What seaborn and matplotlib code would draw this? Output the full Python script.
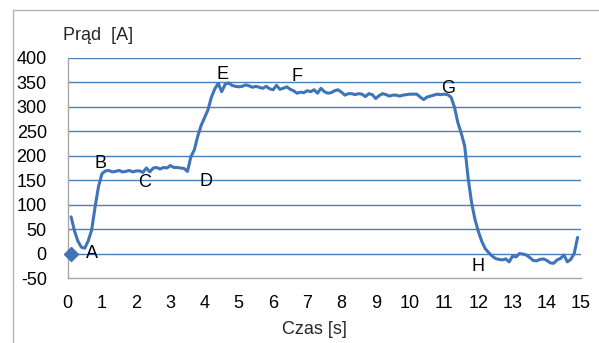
import matplotlib
matplotlib.use("Agg")
import matplotlib.pyplot as plt
from matplotlib.lines import Line2D
import seaborn as sns
import pandas as pd

# Measured current over time
czas = [0.1, 0.2, 0.3, 0.4, 0.5, 0.6, 0.7, 0.8, 0.9, 1.0,
        1.1, 1.2, 1.3, 1.4, 1.5, 1.6, 1.7, 1.8, 1.9, 2.0,
        2.1, 2.2, 2.3, 2.4, 2.5, 2.6, 2.7, 2.8, 2.9, 3.0,
        3.1, 3.2, 3.3, 3.4, 3.5, 3.6, 3.7, 3.8, 3.9, 4.0,
        4.1, 4.2, 4.3, 4.4, 4.5, 4.6, 4.7, 4.8, 4.9, 5.0,
        5.1, 5.2, 5.3, 5.4, 5.5, 5.6, 5.7, 5.8, 5.9, 6.0,
        6.1, 6.2, 6.3, 6.4, 6.5, 6.6, 6.7, 6.8, 6.9, 7.0,
        7.1, 7.2, 7.3, 7.4, 7.5, 7.6, 7.7, 7.8, 7.9, 8.0,
        8.1, 8.2, 8.3, 8.4, 8.5, 8.6, 8.7, 8.8, 8.9, 9.0,
        9.1, 9.2, 9.3, 9.4, 9.5, 9.6, 9.7, 9.8, 9.9, 10.0,
        10.1, 10.2, 10.3, 10.4, 10.5, 10.6, 10.7, 10.8, 10.9, 11.0,
        11.1, 11.2, 11.3, 11.4, 11.5, 11.6, 11.7, 11.8, 11.9, 12.0,
        12.1, 12.2, 12.3, 12.4, 12.5, 12.6, 12.7, 12.8, 12.9, 13.0,
        13.1, 13.2, 13.3, 13.4, 13.5, 13.6, 13.7, 13.8, 13.9, 14.0,
        14.1, 14.2, 14.3, 14.4, 14.5, 14.6, 14.7, 14.8, 14.9]
prad = [75, 46, 25, 13, 11, 26, 48, 95, 137, 163,
        169, 170, 167, 168, 170, 167, 168, 170, 167, 169,
        169, 166, 175, 167, 175, 176, 173, 176, 175, 180,
        176, 176, 175, 174, 168, 198, 212, 240, 262, 278,
        294, 320, 337, 348, 331, 346, 349, 344, 342, 341,
        342, 345, 343, 340, 342, 340, 338, 342, 337, 335,
        344, 336, 338, 341, 336, 333, 328, 330, 329, 333,
        331, 335, 328, 338, 331, 328, 329, 333, 335, 330,
        324, 327, 327, 325, 327, 326, 321, 327, 325, 317,
        323, 327, 325, 322, 324, 324, 322, 324, 325, 326,
        326, 326, 320, 315, 320, 322, 324, 326, 325, 326,
        325, 320, 300, 268, 246, 220, 155, 105, 70, 45,
        25, 10, 2, -5, -10, -12, -13, -11, -17, -5,
        -7, 0, -1, -3, -8, -14, -15, -12, -11, -14,
        -19, -20, -13, -10, -3, -17, -12, 0, 33]

# Single marked point at the start
punkt_czas = [0.1]
punkt_prad = [0]

# Labelled points of the waveform
etykiety = ["A", "B", "C", "D", "E", "F", "G", "H"]
etykiety_x = [0.72, 0.96, 2.26, 4.03, 4.52, 6.69, 11.12, 12.0]
etykiety_y = [0, 185, 146, 147, 367, 363, 338, -27]

y_ticks = [-50, 0, 50, 100, 150, 200, 250, 300, 350, 400]
x_ticks = list(range(0, 16))

sns.set_style("white")
plt.rcParams["font.family"] = ["Liberation Sans", "DejaVu Sans"]

LINE = "#3F74B8"
GRID = "#4A7EBB"
AXIS = "#A6A6A6"
FS = 13

fig = plt.figure(figsize=(5.99, 3.43), dpi=100)
ax = fig.add_axes([0.113, 0.1895, 0.857, 0.6415])

df = pd.DataFrame({"Czas": czas, "Prad": prad})
sns.lineplot(data=df, x="Czas", y="Prad", ax=ax, color=LINE, linewidth=2.2,
             estimator=None, sort=False)
ax.plot(punkt_czas, punkt_prad, marker="D", markersize=7, color=LINE,
        linestyle="none", zorder=4, clip_on=False)

for t, x, y in zip(etykiety, etykiety_x, etykiety_y):
    ax.text(x, y, t, ha="center", va="center", fontsize=FS, color="black")

ax.set_xlim(0, 15)
ax.set_ylim(-50, 400)
ax.set_xticks(x_ticks)
ax.set_yticks(y_ticks)
ax.set_xticklabels([str(v) for v in x_ticks])
ax.set_yticklabels([str(v) for v in y_ticks])

for v in y_ticks[1:]:
    ax.axhline(v, color=GRID, linewidth=1.0, zorder=0)

for s in ["top", "right"]:
    ax.spines[s].set_visible(False)
for s in ["left", "bottom"]:
    ax.spines[s].set_color(AXIS)
    ax.spines[s].set_linewidth(1.0)

ax.tick_params(axis="both", which="major", direction="out", length=5,
               width=1.0, color=AXIS, labelsize=FS, labelcolor="black")
ax.tick_params(axis="y", pad=10)
ax.tick_params(axis="x", pad=7)

ax.set_xlabel("")
ax.set_ylabel("")
fig.text(314 / 599, 1 - 330 / 343, "Czas [s]", ha="center", va="center",
         fontsize=FS)
fig.text(63 / 599, 1 - 35 / 343, "Prąd  [A]", ha="left", va="center",
         fontsize=FS)

# Outer chart frame (top and left edges)
fig.add_artist(Line2D([13 / 599, 13 / 599], [0, 1 - 9.5 / 343],
                      transform=fig.transFigure, color="#B3B3B3", linewidth=1.0))
fig.add_artist(Line2D([13 / 599, 1], [1 - 9.5 / 343, 1 - 9.5 / 343],
                      transform=fig.transFigure, color="#B3B3B3", linewidth=1.0))

fig.savefig("out.png", dpi=100)
